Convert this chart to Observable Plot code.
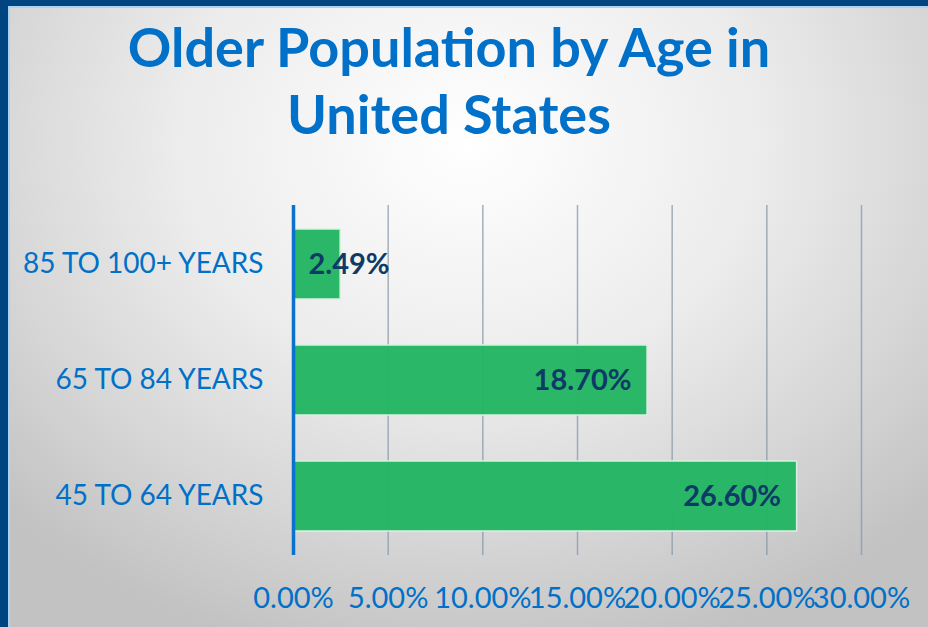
<!DOCTYPE html>
<html>
<head>
<meta charset="utf-8">
<script src="https://cdn.jsdelivr.net/npm/d3@7"></script>
<script src="https://cdn.jsdelivr.net/npm/@observablehq/plot@0.6"></script>
<style>
  html, body { margin: 0; padding: 0; }
  body { width: 928px; height: 627px; overflow: hidden; }
  #frame {
    position: relative; width: 928px; height: 627px; box-sizing: border-box;
    background: radial-gradient(ellipse 70% 85% at 50% 22%, #ffffff 0%, #ececec 45%, #d6d6d6 75%, #c2c2c2 100%);
    border-left: 8px solid #00457f; border-top: 6px solid #00457f;
  }
  #inner { position: absolute; left: 0; top: 0; right: 0; bottom: 0; border-left: 2px solid #a9d3f5; border-top: 2px solid #a9d3f5; }
  #title {
    position: absolute; left: -24px; top: -6px; width: 928px; text-align: center;
    font-family: Lato, sans-serif; font-weight: bold; font-size: 54px; line-height: 67px;
    color: #0070c8; padding-top: 13px; padding-left: 2px; box-sizing: border-box;
  }
  #chart { position: absolute; left: -8px; top: 178px; }
</style>
</head>
<body>
<div id="frame"><div id="inner"></div>
  <div id="title">Older Population by Age in<br>United States</div>
  <div id="chart"></div>
</div>
<script>
const ageGroups = ["85 TO 100+ YEARS", "65 TO 84 YEARS", "45 TO 64 YEARS"];
const shares = [2.49, 18.70, 26.60];
const xTicks = [0, 5, 10, 15, 20, 25, 30];

const data = ageGroups.map((a, i) => ({age: a, value: shares[i]}));
const fmt = v => v.toFixed(2) + "%";

const chart = Plot.plot({
  width: 928,
  height: 443,
  marginTop: 21,
  marginBottom: 72,
  marginLeft: 293,
  marginRight: 67,
  style: {background: "transparent", overflow: "visible"},
  x: {domain: [0, 30], ticks: xTicks},
  y: {domain: ageGroups, padding: 0.4, paddingOuter: 0.2},
  marks: [
    Plot.ruleX(xTicks.filter(t => t > 0), {stroke: "#8797aa", strokeOpacity: 0.75, strokeWidth: 1.5}),
    Plot.barX(data, {x: "value", y: "age", fill: "#23b563", stroke: "#d9efe0", strokeWidth: 1.5, fillOpacity: 0.97}),
    Plot.ruleX([0], {stroke: "#0a72cc", strokeWidth: 3.5}),
    Plot.text(data.filter(d => d.value >= 5), {x: "value", y: "age", text: d => fmt(d.value), textAnchor: "end", dx: -16, dy: 0,
      fill: "#0d3a66", fontWeight: "bold", fontSize: 29, fontFamily: "Lato, sans-serif"}),
    Plot.text(data.filter(d => d.value < 5), {x: 0, y: "age", text: d => fmt(d.value), textAnchor: "start", dx: 15, dy: 0,
      fill: "#0d3a66", fontWeight: "bold", fontSize: 29, fontFamily: "Lato, sans-serif"}),
    Plot.axisY({tickSize: 0, tickPadding: 30, label: null, fill: "#0070c8", fontSize: 28, fontFamily: "Lato, sans-serif"}),
    Plot.axisX({ticks: xTicks, tickSize: 0, tickPadding: 32, tickFormat: d => fmt(d), label: null, fill: "#0070c8", fontSize: 29, fontFamily: "Lato, sans-serif"})
  ]
});
document.getElementById("chart").appendChild(chart);
</script>
</body>
</html>
